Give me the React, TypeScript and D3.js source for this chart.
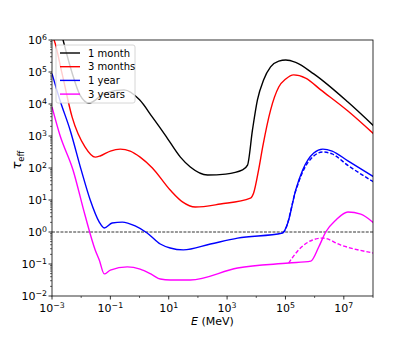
import React from "react";
import * as d3 from "d3";

// all values are log10 exponents
const month1LogE = [-2.79, -2.62, -2.31, -2.04, -1.73, -1.18, -0.53, 0.0, 0.44, 0.88, 1.4, 1.74, 2.33, 2.95, 3.53, 3.7, 3.87, 4.04, 4.25, 4.49, 4.77, 5.01, 5.35, 5.97, 7.14, 8.03];
const month1LogTau = [6.63, 6.0, 4.97, 4.28, 4.03, 4.34, 4.44, 4.13, 3.59, 3.03, 2.34, 2.03, 1.78, 1.81, 1.94, 2.09, 3.19, 4.13, 4.75, 5.16, 5.34, 5.375, 5.3, 4.94, 4.06, 3.31];

const month3LogE = [-3.0, -2.93, -2.66, -2.31, -1.87, -1.52, -1.35, -1.0, -0.66, -0.32, 0.02, 0.44, 1.05, 1.47, 1.91, 2.77, 3.8, 3.91, 4.08, 4.22, 4.49, 4.77, 5.01, 5.28, 5.69, 6.21, 7.14, 8.03];
const month3LogTau = [6.125, 6.0, 4.97, 3.59, 2.66, 2.34, 2.375, 2.53, 2.59, 2.53, 2.34, 2.0, 1.31, 0.94, 0.78, 0.875, 1.06, 1.22, 1.94, 2.66, 3.81, 4.53, 4.78, 4.91, 4.81, 4.44, 3.78, 3.06];

const year1LogE = [-3.0, -2.73, -2.38, -2.0, -1.69, -1.38, -1.21, -0.94, -0.59, -0.15, 0.26, 0.71, 1.05, 1.5, 2.43, 3.36, 4.9, 5.08, 5.35, 5.59, 5.97, 6.28, 6.6, 7.14, 8.03];
const year1LogTau = [4.95, 4.125, 3.19, 1.94, 1.0, 0.31, 0.125, 0.28, 0.31, 0.19, -0.03, -0.375, -0.5, -0.56, -0.375, -0.19, -0.03, 0.28, 1.31, 1.94, 2.47, 2.59, 2.53, 2.22, 1.72];

const year1AltLogE = [4.9, 4.97, 5.35, 5.59, 5.97, 6.28, 6.6, 7.14, 8.03];
const year1AltLogTau = [-0.03, 0.03, 1.28, 1.875, 2.375, 2.5, 2.44, 2.08, 1.56];

const year3LogE = [-3.0, -2.73, -2.28, -1.87, -1.52, -1.38, -1.21, -1.0, -0.42, 0.02, 0.44, 0.71, 1.05, 1.74, 3.36, 5.11, 5.87, 6.14, 6.38, 6.73, 7.14, 7.58, 8.03];
const year3LogTau = [3.91, 3.03, 1.94, 0.53, -0.56, -0.875, -1.31, -1.19, -1.09, -1.16, -1.34, -1.47, -1.5, -1.5, -1.125, -0.97, -0.91, -0.47, 0.0, 0.375, 0.625, 0.56, 0.28];

const year3AltLogE = [5.11, 5.45, 5.93, 6.28, 6.9, 8.03];
const year3AltLogTau = [-0.97, -0.56, -0.25, -0.19, -0.41, -0.66];

const xTickExps = [-3, -1, 1, 3, 5, 7];
const yTickExps = [-2, -1, 0, 1, 2, 3, 4, 5, 6];
const legendLabels = ["1 month", "3 months", "1 year", "3 years"];

const W = 415;
const H = 340;
const left = 52;
const right = 373;
const top = 40;
const bottom = 296;
const font = "DejaVu Sans, sans-serif";

const App = () => {
  const x = d3.scaleLog().domain([1e-3, 1e8]).range([left, right]);
  const y = d3.scaleLog().domain([1e-2, 1e6]).range([bottom, top]);

  const line = d3
    .line<[number, number]>()
    .x((d) => x(d[0]))
    .y((d) => y(d[1]))
    .curve(d3.curveMonotoneX);

  const pts = (es: number[], ts: number[]) =>
    es.map((e, i) => [Math.pow(10, e), Math.pow(10, ts[i])] as [number, number]);

  const series = [
    { data: pts(month1LogE, month1LogTau), color: "#000000", dash: "" },
    { data: pts(month3LogE, month3LogTau), color: "#ff0000", dash: "" },
    { data: pts(year1LogE, year1LogTau), color: "#0000ff", dash: "" },
    { data: pts(year1AltLogE, year1AltLogTau), color: "#0000ff", dash: "4,2" },
    { data: pts(year3LogE, year3LogTau), color: "#ff00ff", dash: "" },
    { data: pts(year3AltLogE, year3AltLogTau), color: "#ff00ff", dash: "4,2" },
  ];
  const legendColors = ["#000000", "#ff0000", "#0000ff", "#ff00ff"];

  // minor ticks
  const yMinor: number[] = [];
  for (let p = -2; p < 6; p++) for (let k = 2; k < 10; k++) yMinor.push(k * Math.pow(10, p));
  const xMinor = [-2, 0, 2, 4, 6, 8].map((p) => Math.pow(10, p));

  return (
    <div style={{ position: "absolute", left: 0, top: 0 }}>
      <svg width={W} height={H} style={{ display: "block", background: "#fff" }}>
        <defs>
          <clipPath id="plotArea">
            <rect x={left} y={top} width={right - left} height={bottom - top} />
          </clipPath>
        </defs>

        {/* tau = 1 reference */}
        <line
          x1={left}
          x2={right}
          y1={y(1)}
          y2={y(1)}
          stroke="#000"
          strokeWidth={0.8}
          strokeDasharray="2.96,1.28"
        />

        <g clipPath="url(#plotArea)">
          {series.map((s, i) => (
            <path
              key={i}
              d={line(s.data) ?? ""}
              fill="none"
              stroke={s.color}
              strokeWidth={1.4}
              strokeDasharray={s.dash || undefined}
            />
          ))}
        </g>

        {/* legend */}
        <g>
          <rect x={56} y={45} width={79} height={58} rx={2} fill="#fff" fillOpacity={0.8} stroke="#cccccc" strokeWidth={0.8} />
          {legendLabels.map((lab, i) => (
            <g key={lab} transform={`translate(0,${53 + i * 13.7})`}>
              <line x1={60} x2={80} stroke={legendColors[i]} strokeWidth={1.4} />
              <text x={88} y={0} dy="0.35em" fontSize={10} fontFamily={font} fill="#000">
                {lab}
              </text>
            </g>
          ))}
        </g>

        {/* frame */}
        <rect x={left} y={top} width={right - left} height={bottom - top} fill="none" stroke="#000" strokeWidth={0.8} />

        {/* x ticks */}
        {xTickExps.map((p) => {
          const px = x(Math.pow(10, p));
          return (
            <g key={"x" + p}>
              <line x1={px} x2={px} y1={bottom} y2={bottom + 3.5} stroke="#000" strokeWidth={0.8} />
              <text x={px} y={312} textAnchor="middle" fontSize={11} fontFamily={font} fill="#000">
                10
                <tspan dy={-4.5} fontSize={7.8}>
                  {p < 0 ? "\u2212" + Math.abs(p) : p}
                </tspan>
              </text>
            </g>
          );
        })}
        {xMinor.map((v) => (
          <line key={"xm" + v} x1={x(v)} x2={x(v)} y1={bottom} y2={bottom + 2} stroke="#000" strokeWidth={0.6} />
        ))}

        {/* y ticks */}
        {yTickExps.map((p) => {
          const py = y(Math.pow(10, p));
          return (
            <g key={"y" + p}>
              <line x1={left - 3.5} x2={left} y1={py} y2={py} stroke="#000" strokeWidth={0.8} />
              <text x={47} y={py + 4} textAnchor="end" fontSize={11} fontFamily={font} fill="#000">
                10
                <tspan dy={-4.5} fontSize={7.8}>
                  {p < 0 ? "\u2212" + Math.abs(p) : p}
                </tspan>
              </text>
            </g>
          );
        })}
        {yMinor.map((v, i) => (
          <line key={"ym" + i} x1={left - 2} x2={left} y1={y(v)} y2={y(v)} stroke="#000" strokeWidth={0.6} />
        ))}

        {/* axis labels */}
        <text x={(left + right) / 2} y={325} textAnchor="middle" fontSize={11} fontFamily={font} fill="#000">
          <tspan fontStyle="italic">E</tspan> (MeV)
        </text>
        <text transform="translate(21,160) rotate(-90)" textAnchor="middle" fontFamily={font} fill="#000">
          <tspan fontSize={13} fontStyle="italic">τ</tspan>
          <tspan fontSize={8.5} dy={3}>eff</tspan>
        </text>
      </svg>
    </div>
  );
};

export default App;
